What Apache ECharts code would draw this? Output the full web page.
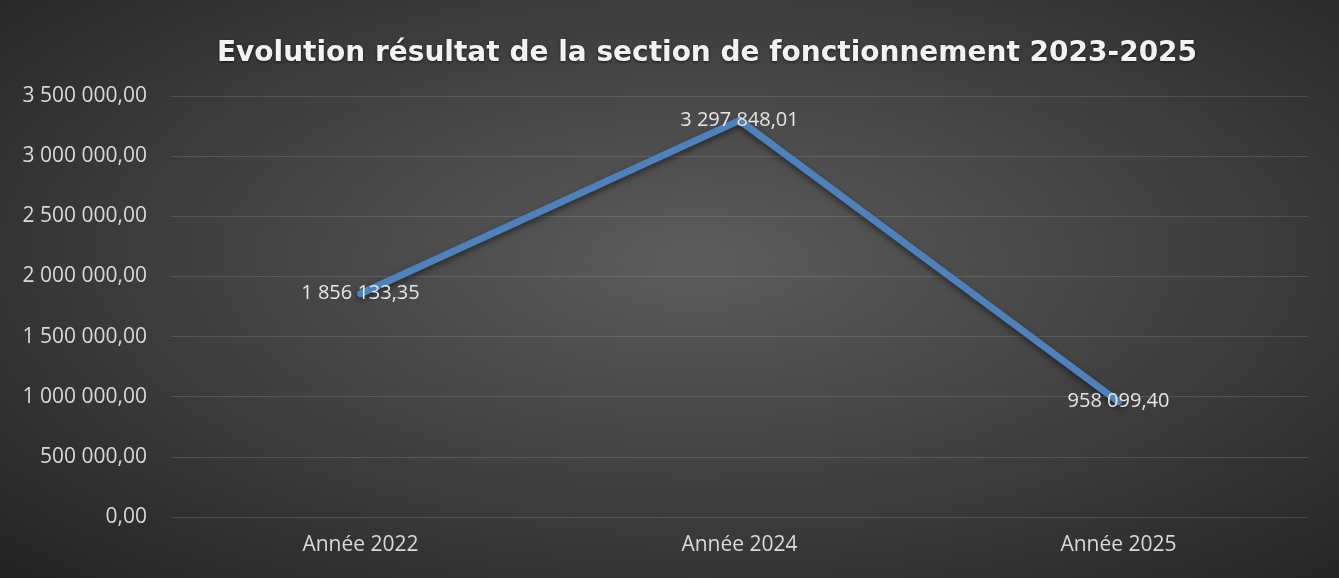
<!DOCTYPE html>
<html>
<head>
<meta charset="utf-8">
<script src="https://cdn.jsdelivr.net/npm/echarts@6/dist/echarts.min.js"></script>
<style>
    html, body { margin: 0; padding: 0; }
    #chart {
        width: 1339px;
        height: 578px;
        background: radial-gradient(ellipse at 52% 45%, #5c5c5c 0%, #434343 45%, #232323 100%);
    }
</style>
</head>
<body>
<div id="chart"></div>
<script>
const categories = ["Année 2022", "Année 2024", "Année 2025"];
const values = [1856133.35, 3297848.01, 958099.40];

function frNum(v) {
    let parts = v.toFixed(2).split(".");
    let int = parts[0].replace(/\B(?=(\d{3})+(?!\d))/g, " ");
    return int + "," + parts[1];
}

let chart = echarts.init(document.getElementById("chart"));
chart.setOption({
    backgroundColor: "transparent",
    animation: false,
    textStyle: { fontFamily: "Open Sans" },
    title: {
        text: "Evolution résultat de la section de fonctionnement 2023-2025",
        left: 702,
        textAlign: "center",
        top: 35,
        textStyle: {
            color: "#f2f2f2",
            fontSize: 28,
            fontWeight: "bold",
            fontFamily: "DejaVu Sans",
            textShadowColor: "rgba(0,0,0,0.6)",
            textShadowBlur: 3,
            textShadowOffsetY: 1
        }
    },
    grid: {
        left: 171,
        right: 31,
        top: 96,
        bottom: 61
    },
    xAxis: {
        type: "category",
        data: categories,
        boundaryGap: true,
        axisLine: { show: false },
        axisTick: { show: false },
        axisLabel: {
            color: "#d9d9d9",
            fontSize: 21,
            margin: 18
        }
    },
    yAxis: {
        type: "value",
        min: 0,
        max: 3500000,
        interval: 500000,
        axisLine: { show: false },
        axisTick: { show: false },
        splitLine: {
            lineStyle: { color: "rgba(255,255,255,0.13)", width: 1 }
        },
        axisLabel: {
            color: "#d9d9d9",
            fontSize: 21,
            margin: 24,
            formatter: function (v) { return frNum(v); }
        }
    },
    series: [
        {
            type: "line",
            data: values,
            showSymbol: true,
            symbol: "circle",
            symbolSize: 1,
            lineStyle: {
                color: "#4f81bd",
                width: 7,
                cap: "round",
                shadowColor: "rgba(0,0,0,0.5)",
                shadowBlur: 6,
                shadowOffsetY: 3
            },
            itemStyle: { color: "#4f81bd" },
            label: {
                show: true,
                position: "inside",
                color: "#e6e6e6",
                fontSize: 20,
                formatter: function (p) { return frNum(p.value); }
            }
        }
    ]
});
</script>
</body>
</html>
